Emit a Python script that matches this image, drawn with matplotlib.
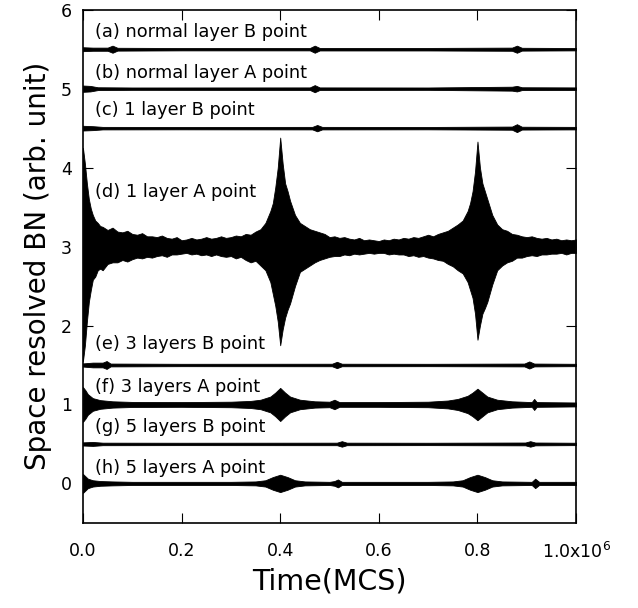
import matplotlib.pyplot as plt

plt.rcParams['font.family'] = ['DejaVu Sans']
plt.rcParams['mathtext.default'] = 'regular'

# times in units of 1e6 MCS, amplitudes = half width of the noise band
offsets = [5.5, 5.0, 4.5, 3.0, 1.5, 1.0, 0.5, 0.0]
labels = ['(a) normal layer B point', '(b) normal layer A point', '(c) 1 layer B point',
          '(d) 1 layer A point', '(e) 3 layers B point', '(f) 3 layers A point',
          '(g) 5 layers B point', '(h) 5 layers A point']
label_y = [5.72, 5.2, 4.73, 3.69, 1.76, 1.22, 0.71, 0.2]

t_a = [0, 0.02, 0.05, 0.06, 0.07, 0.2, 0.46, 0.47, 0.48, 0.7, 0.87, 0.88, 0.89, 1.0]
amp_a = [0.025, 0.02, 0.02, 0.045, 0.018, 0.015, 0.015, 0.045, 0.016, 0.016, 0.02, 0.045, 0.018, 0.015]

t_b = [0, 0.015, 0.03, 0.1, 0.46, 0.47, 0.48, 0.7, 0.87, 0.88, 0.89, 1.0]
amp_b = [0.04, 0.035, 0.018, 0.015, 0.016, 0.045, 0.016, 0.015, 0.025, 0.035, 0.018, 0.016]

t_c = [0, 0.02, 0.04, 0.2, 0.465, 0.475, 0.485, 0.7, 0.87, 0.88, 0.89, 1.0]
amp_c = [0.03, 0.025, 0.016, 0.015, 0.016, 0.04, 0.016, 0.015, 0.02, 0.05, 0.018, 0.016]

t_d = [0, 0.004, 0.008, 0.012, 0.016, 0.02, 0.025, 0.03, 0.035,
       0.04, 0.05, 0.06, 0.07, 0.08, 0.09, 0.10, 0.11, 0.12, 0.13, 0.14, 0.15, 0.16, 0.17,
       0.18, 0.19, 0.20, 0.21, 0.22, 0.23, 0.24, 0.25, 0.26, 0.27, 0.28, 0.29, 0.30, 0.31,
       0.32, 0.33, 0.34, 0.35, 0.36,
       0.37, 0.38, 0.385, 0.39, 0.395, 0.4, 0.405, 0.41, 0.415, 0.42, 0.43, 0.44,
       0.45, 0.46, 0.47, 0.48, 0.49, 0.50, 0.51, 0.52, 0.53, 0.54, 0.55, 0.56, 0.57, 0.58,
       0.59, 0.60, 0.61, 0.62, 0.63, 0.64, 0.65, 0.66, 0.67, 0.68, 0.69, 0.70, 0.71, 0.72,
       0.73, 0.74, 0.75, 0.76,
       0.77, 0.78, 0.785, 0.79, 0.795, 0.8, 0.805, 0.81, 0.815, 0.82, 0.83, 0.84,
       0.85, 0.86, 0.87, 0.88, 0.89, 0.90, 0.91, 0.92, 0.93, 0.94, 0.95, 0.96, 0.97, 0.98,
       0.99, 1.0]
up_d = [1.25, 1.05, 0.8, 0.6, 0.48, 0.4, 0.33, 0.3, 0.26,
        0.25, 0.21, 0.24, 0.19, 0.18, 0.2, 0.16, 0.15, 0.17, 0.13, 0.13, 0.12, 0.14, 0.11,
        0.1, 0.12, 0.08, 0.09, 0.11, 0.09, 0.1, 0.12, 0.1, 0.11, 0.13, 0.11, 0.12, 0.14,
        0.13, 0.16, 0.15, 0.19, 0.22,
        0.3, 0.45, 0.55, 0.75, 1.0, 1.38, 1.05, 0.8, 0.7, 0.58, 0.4, 0.3,
        0.26, 0.22, 0.2, 0.18, 0.16, 0.12, 0.13, 0.11, 0.12, 0.1, 0.09, 0.11, 0.08, 0.09,
        0.08, 0.07, 0.09, 0.08, 0.1, 0.09, 0.11, 0.1, 0.12, 0.11, 0.13, 0.15, 0.13, 0.16,
        0.18, 0.2, 0.24, 0.28,
        0.33, 0.45, 0.55, 0.7, 0.95, 1.33, 1.0, 0.8, 0.7, 0.6, 0.4, 0.28,
        0.22, 0.2, 0.16, 0.15, 0.13, 0.12, 0.13, 0.11, 0.1, 0.11, 0.09, 0.1, 0.08, 0.09,
        0.08, 0.09]
lo_d = [1.45, 1.25, 0.95, 0.7, 0.55, 0.42, 0.38, 0.3, 0.28,
        0.3, 0.22, 0.2, 0.2, 0.17, 0.19, 0.16, 0.14, 0.15, 0.13, 0.14, 0.12, 0.11, 0.13,
        0.1, 0.1, 0.09, 0.08, 0.1, 0.09, 0.11, 0.1, 0.12, 0.1, 0.12, 0.13, 0.12, 0.15,
        0.13, 0.17, 0.2, 0.18, 0.24,
        0.3, 0.45, 0.6, 0.75, 0.95, 1.25, 1.05, 0.9, 0.8, 0.72, 0.5, 0.32,
        0.28, 0.24, 0.2, 0.17, 0.15, 0.13, 0.12, 0.12, 0.1, 0.11, 0.09, 0.1, 0.09, 0.08,
        0.09, 0.08, 0.08, 0.1, 0.09, 0.1, 0.1, 0.12, 0.11, 0.13, 0.12, 0.14, 0.15, 0.17,
        0.18, 0.22, 0.25, 0.3,
        0.34, 0.45, 0.55, 0.65, 0.85, 1.18, 1.0, 0.85, 0.78, 0.7, 0.48, 0.3,
        0.24, 0.2, 0.18, 0.14, 0.14, 0.12, 0.11, 0.12, 0.1, 0.1, 0.09, 0.09, 0.08, 0.1,
        0.08, 0.08]

t_e = [0, 0.02, 0.04, 0.048, 0.056, 0.2, 0.505, 0.515, 0.525, 0.7, 0.895, 0.905, 0.915, 1.0]
amp_e = [0.02, 0.03, 0.03, 0.05, 0.018, 0.015, 0.016, 0.04, 0.016, 0.015, 0.018, 0.045, 0.018, 0.015]

t_f = [0, 0.005, 0.01, 0.02, 0.035, 0.06, 0.1, 0.2, 0.3, 0.34, 0.36, 0.38, 0.39, 0.4, 0.41,
       0.42, 0.44, 0.47, 0.5, 0.51, 0.52, 0.6, 0.7, 0.74, 0.76, 0.78, 0.79, 0.8, 0.81,
       0.82, 0.84, 0.87, 0.91, 0.915, 0.92, 1.0]
amp_f = [0.22, 0.18, 0.13, 0.08, 0.055, 0.04, 0.032, 0.03, 0.035, 0.045, 0.06, 0.1, 0.15,
         0.21, 0.15, 0.1, 0.06, 0.04, 0.035, 0.06, 0.03, 0.03, 0.035, 0.05, 0.07, 0.11,
         0.15, 0.2, 0.15, 0.1, 0.06, 0.04, 0.03, 0.07, 0.03, 0.025]

t_g = [0, 0.02, 0.04, 0.2, 0.515, 0.525, 0.535, 0.7, 0.897, 0.907, 0.917, 1.0]
amp_g = [0.02, 0.025, 0.016, 0.015, 0.016, 0.035, 0.016, 0.015, 0.018, 0.035, 0.018, 0.015]

t_h = [0, 0.005, 0.01, 0.02, 0.035, 0.06, 0.1, 0.3, 0.35, 0.37, 0.385, 0.4, 0.415, 0.43,
       0.45, 0.5, 0.51, 0.517, 0.525, 0.7, 0.75, 0.77, 0.785, 0.8, 0.815, 0.83, 0.85,
       0.91, 0.917, 0.925, 1.0]
amp_h = [0.12, 0.09, 0.06, 0.04, 0.03, 0.025, 0.02, 0.02, 0.025, 0.04, 0.08, 0.11, 0.08,
         0.04, 0.025, 0.02, 0.03, 0.05, 0.02, 0.02, 0.025, 0.04, 0.08, 0.11, 0.08, 0.04,
         0.025, 0.02, 0.06, 0.02, 0.02]

traces = [(t_a, amp_a, amp_a), (t_b, amp_b, amp_b), (t_c, amp_c, amp_c), (t_d, up_d, lo_d),
          (t_e, amp_e, amp_e), (t_f, amp_f, amp_f), (t_g, amp_g, amp_g), (t_h, amp_h, amp_h)]

fig = plt.figure(figsize=(6.38, 6.08), dpi=100)
ax = fig.add_axes([0.130, 0.140, 0.773, 0.844])

for (t, up, lo), c in zip(traces, offsets):
    x = [v * 1e6 for v in t]
    ax.fill_between(x, [c + u for u in up], [c - l for l in lo],
                    color='black', lw=0.6, edgecolor='black')

for lab, y in zip(labels, label_y):
    ax.text(0.024e6, y, lab, fontsize=12.8, va='center', ha='left')

ax.set_xlim(0, 1e6)
ax.set_ylim(-0.5, 6)
ax.set_xticks([0, 0.2e6, 0.4e6, 0.6e6, 0.8e6, 1e6])
ax.set_xticklabels(['0.0', '0.2', '0.4', '0.6', '0.8', '1.0x10$^{6}$'])
ax.set_yticks([0, 1, 2, 3, 4, 5, 6])
ax.tick_params(direction='in', top=True, right=True, length=7, labelsize=12.5, pad=14)
ax.tick_params(axis='y', pad=8)
for s in ax.spines.values():
    s.set_linewidth(1.2)

ax.set_xlabel('Time(MCS)', fontsize=20.5, labelpad=4)
ax.set_ylabel('Space resolved BN (arb. unit)', fontsize=20, labelpad=6)

fig.savefig('out.png', dpi=100)
